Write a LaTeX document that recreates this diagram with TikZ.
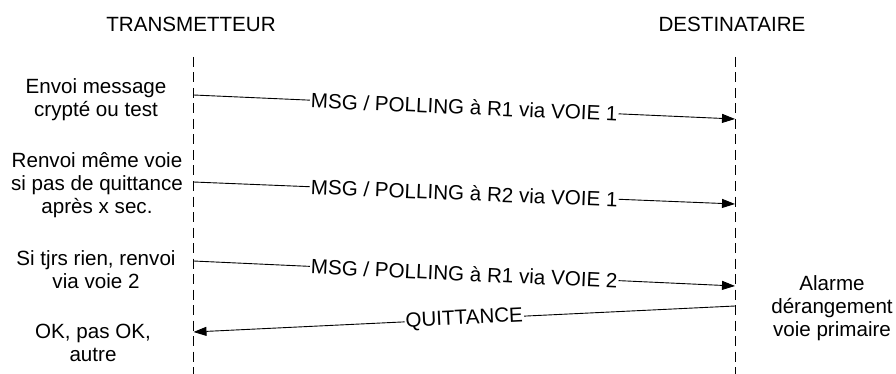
\documentclass[tikz,border=0pt]{standalone}
\usepackage{fontspec}
\setmainfont{Liberation Sans}
\usetikzlibrary{arrows.meta}
\begin{document}
\begin{tikzpicture}[x=1pt,y=-1pt,
  txt/.style={font=\fontsize{20.6pt}{23pt}\selectfont, align=center, inner sep=0pt},
  lifeline/.style={line width=1pt, dash pattern=on 10pt off 5.5pt},
  msg/.style={line width=0.9pt, -{Triangle[length=13pt,width=9pt]}},
  lbl/.style={font=\fontsize{20.6pt}{23pt}\selectfont, fill=white, inner sep=1pt, sloped}]
\useasboundingbox (0,0) rectangle (896,374);
% titles
\node[txt] (tTx) at (191,24.5) {TRANSMETTEUR};
\node[txt] (tRx) at (732,24.5) {DESTINATAIRE};
% lifelines
\coordinate (lt) at (193.5,57);
\coordinate (lb) at (193.5,374);
\coordinate (rt) at (735,57);
\coordinate (rb) at (735,374);
\draw[lifeline] (lt) -- (lb);
\draw[lifeline] (rt) -- (rb);
% left texts
\node[txt] (n1) at (96,100) {Envoi message\\crypté ou test};
\node[txt] (n2) at (97,185) {Renvoi même voie\\si pas de quittance\\après x sec.};
\node[txt] (n3) at (96,270) {Si tjrs rien, renvoi\\via voie 2};
\node[txt] (n4) at (93,342.5) {OK, pas OK,\\autre};
% right text
\node[txt] (n5) at (832,308) {Alarme\\dérangement\\voie primaire};
% message endpoints
\coordinate (a1s) at (193.5,95);  \coordinate (a1e) at (735,119);
\coordinate (a2s) at (193.5,182); \coordinate (a2e) at (735,204);
\coordinate (a3s) at (193.5,261); \coordinate (a3e) at (735,286);
\coordinate (qs) at (735,306);    \coordinate (qe) at (193.5,332);
\draw[msg] (a1s) -- node[lbl] {MSG / POLLING à R1 via VOIE 1} (a1e);
\draw[msg] (a2s) -- node[lbl] {MSG / POLLING à R2 via VOIE 1} (a2e);
\draw[msg] (a3s) -- node[lbl] {MSG / POLLING à R1 via VOIE 2} (a3e);
\draw[msg] (qs) -- node[lbl] {QUITTANCE} (qe);
\end{tikzpicture}
\end{document}
